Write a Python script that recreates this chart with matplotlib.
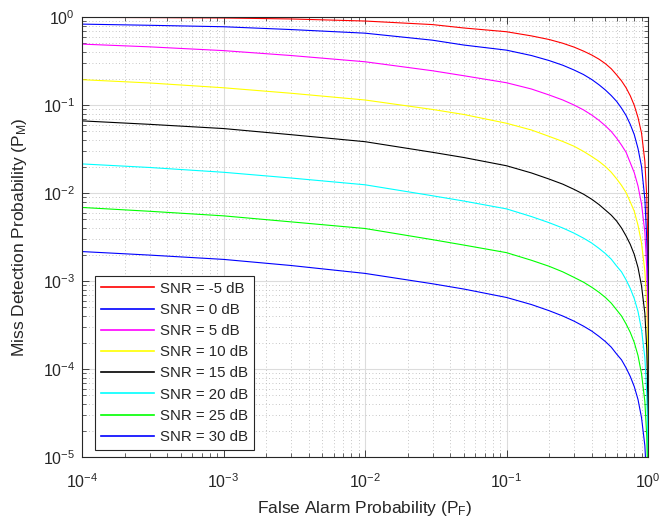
import matplotlib
matplotlib.use('Agg')
import matplotlib.pyplot as plt
from matplotlib.ticker import LogLocator, NullFormatter

# ---------------------------------------------------------------------------
# values

pf = [1e-4, 3e-4, 1e-3, 3e-3, 1e-2, 0.03, 0.05, 0.1, 0.15, 0.2, 0.25, 0.3,
      0.35, 0.4, 0.45, 0.5, 0.55, 0.6, 0.65, 0.7, 0.75, 0.8, 0.85, 0.9,
      0.95, 0.98, 0.99, 0.999, 0.9999, 0.99999]

pm_m5 = [0.99, 0.985, 0.975, 0.95, 0.90, 0.82, 0.75, 0.68, 0.61, 0.555,
         0.503, 0.455, 0.41, 0.37, 0.332, 0.295, 0.258, 0.22, 0.188, 0.157,
         0.127, 0.099, 0.072, 0.048, 0.023, 0.009, 0.0045, 4.5e-4, 4.5e-5,
         4.5e-6]
pm_0 = [0.83, 0.805, 0.775, 0.72, 0.655, 0.545, 0.48, 0.42, 0.365, 0.32,
        0.283, 0.25, 0.222, 0.195, 0.17, 0.148, 0.128, 0.11, 0.092, 0.076,
        0.06, 0.046, 0.032, 0.02, 0.0085, 0.003, 0.0015, 1.5e-4, 1.5e-5,
        1.5e-6]
pm_5 = [0.492, 0.458, 0.415, 0.365, 0.31, 0.245, 0.215, 0.179, 0.152, 0.130,
        0.114, 0.100, 0.088, 0.077, 0.067, 0.058, 0.050, 0.042, 0.035, 0.029,
        0.022, 0.017, 0.012, 0.0075, 0.0036, 0.0014, 7e-4, 7e-5, 7e-6, 7e-7]
pm_10 = [0.194, 0.178, 0.157, 0.136, 0.114, 0.089, 0.078, 0.062, 0.052,
         0.044, 0.0385, 0.034, 0.0297, 0.026, 0.0229, 0.020, 0.0172, 0.0145,
         0.0122, 0.0101, 0.0079, 0.0062, 0.0043, 0.0027, 0.0013, 5.2e-4,
         2.6e-4, 2.6e-5, 2.6e-6, 2.6e-7]
pm_15 = [0.066, 0.0603, 0.054, 0.046, 0.0383, 0.029, 0.0253, 0.0204, 0.0169,
         0.0144, 0.0126, 0.011, 0.0097, 0.0085, 0.0074, 0.0064, 0.0056,
         0.0048, 0.0040, 0.00325, 0.0026, 0.0020, 0.00142, 8.8e-4, 4.3e-4,
         1.7e-4, 8.5e-5, 8.5e-6, 8.5e-7, 8.5e-8]
pm_20 = [0.0214, 0.0195, 0.0172, 0.0148, 0.0124, 0.0093, 0.0081, 0.0066,
         0.0054, 0.0046, 0.0040, 0.0035, 0.00307, 0.0027, 0.00235, 0.00205,
         0.00177, 0.00148, 0.00127, 0.00103, 8.2e-4, 6.3e-4, 4.5e-4, 2.8e-4,
         1.35e-4, 5.3e-5, 2.7e-5, 2.7e-6, 2.7e-7, 2.7e-8]
pm_25 = [6.85e-3, 6.2e-3, 5.5e-3, 4.7e-3, 3.95e-3, 2.95e-3, 2.56e-3, 2.1e-3,
         1.72e-3, 1.47e-3, 1.27e-3, 1.1e-3, 9.7e-4, 8.5e-4, 7.45e-4, 6.5e-4,
         5.6e-4, 4.7e-4, 4.0e-4, 3.25e-4, 2.6e-4, 2.0e-4, 1.42e-4, 8.8e-5,
         4.3e-5, 1.7e-5, 8.5e-6, 8.5e-7, 8.5e-8, 8.5e-9]
pm_30 = [2.16e-3, 1.97e-3, 1.76e-3, 1.5e-3, 1.22e-3, 9.3e-4, 8.1e-4, 6.5e-4,
         5.4e-4, 4.6e-4, 4.0e-4, 3.5e-4, 3.07e-4, 2.7e-4, 2.35e-4, 2.05e-4,
         1.77e-4, 1.48e-4, 1.27e-4, 1.03e-4, 8.2e-5, 6.3e-5, 4.5e-5, 2.8e-5,
         1.35e-5, 5.3e-6, 2.7e-6, 2.7e-7, 2.7e-8, 2.7e-9]

snr_labels = ['SNR = -5 dB', 'SNR = 0 dB', 'SNR = 5 dB', 'SNR = 10 dB',
              'SNR = 15 dB', 'SNR = 20 dB', 'SNR = 25 dB', 'SNR = 30 dB']
series = [pm_m5, pm_0, pm_5, pm_10, pm_15, pm_20, pm_25, pm_30]
colors = ['#ff0000', '#0000ff', '#ff00ff', '#ffff00', '#000000', '#00ffff',
          '#00ff00', '#0000ff']

# ---------------------------------------------------------------------------

plt.rcParams['font.family'] = ['Liberation Sans', 'DejaVu Sans']
plt.rcParams['mathtext.fontset'] = 'custom'
plt.rcParams['mathtext.rm'] = 'Liberation Sans'
plt.rcParams['mathtext.it'] = 'Liberation Sans:italic'

dark = '#262626'
fig = plt.figure(figsize=(6.61, 5.20), dpi=100)
ax = fig.add_axes([82 / 661, 1 - 457 / 520, 566 / 661, 440 / 520])

for vals, c, lab in zip(series, colors, snr_labels):
    ax.plot(pf, vals, color=c, lw=0.8, label=lab)

ax.set_xscale('log')
ax.set_yscale('log')
ax.set_xlim(1e-4, 1)
ax.set_ylim(1e-5, 1)

for axis in (ax.xaxis, ax.yaxis):
    axis.set_major_locator(LogLocator(base=10, numticks=10))
    axis.set_minor_locator(LogLocator(base=10, subs=range(2, 10), numticks=50))
    axis.set_minor_formatter(NullFormatter())

ax.grid(True, which='major', color='#dcdcdc', lw=0.8, ls='-')
ax.grid(True, which='minor', color='#b4b4b4', lw=0.6, ls=(0, (1, 3)))
ax.set_axisbelow(True)

ax.tick_params(which='both', direction='in', top=True, right=True,
               colors=dark, labelcolor=dark, labelsize=11.5)
ax.tick_params(which='major', length=5, width=0.6)
ax.tick_params(which='minor', length=3, width=0.5)
ax.tick_params(axis='x', which='major', pad=11)
ax.tick_params(axis='y', which='major', pad=5)
for s in ax.spines.values():
    s.set_color(dark)
    s.set_linewidth(0.8)

ax.set_xlabel('False Alarm Probability (P$_{\\mathrm{F}}$)', fontsize=12.5,
              color=dark, labelpad=6)
ax.set_ylabel('Miss Detection Probability (P$_{\\mathrm{M}}$)', fontsize=12.5,
              color=dark, labelpad=10)

leg = ax.legend(loc='lower left', bbox_to_anchor=(13 / 566, 7 / 440),
                borderaxespad=0, fancybox=False, framealpha=1,
                edgecolor=dark, fontsize=10.8, handlelength=3.5,
                labelspacing=0.48, borderpad=0.4, handletextpad=0.4)
leg.get_frame().set_linewidth(0.8)
for line in leg.get_lines():
    line.set_linewidth(1.2)
for t in leg.get_texts():
    t.set_color(dark)

fig.savefig('out.png', dpi=100, facecolor='white')
